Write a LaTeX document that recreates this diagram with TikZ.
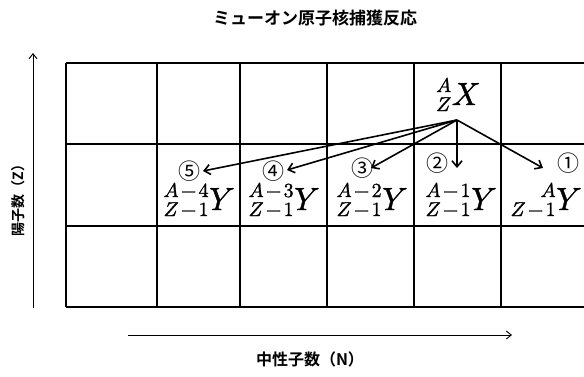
\documentclass[tikz,border=0pt]{standalone}
\usepackage{fontspec}
\usepackage{unicode-math}
\setmathfont{Latin Modern Math}[FakeBold=1.2]
\usetikzlibrary{arrows.meta}
\newfontfamily\jp{Noto Sans CJK JP}
\newfontfamily\jpb{Noto Sans CJK JP Bold}
\newcommand\mn{\mkern2mu\mathord{-}\mkern2mu}
\newcommand\nucl[3]{\raisebox{-6pt}{\fontsize{20}{19}\selectfont\vbox{\halign{\hfil##\cr $#1$\cr $#2$\cr}}}\kern0.5pt{\fontsize{32}{32}\selectfont$#3$}}
\begin{document}
\begin{tikzpicture}[x=1pt,y=-1pt,
  gridline/.style={line width=1.3pt,black},
  axisline/.style={line width=0.9pt,-{Straight Barb[length=5pt,width=8pt]}},
  decay/.style={line width=1.6pt,-{Straight Barb[length=6pt,width=10pt,line width=1.6pt]}},
  nuc/.style={inner sep=0pt},
  circnum/.style={inner sep=0pt,anchor=base,text depth=0pt,font=\jp\fontsize{22}{22}\selectfont},
  axislabel/.style={inner sep=0pt,font=\jpb\fontsize{16}{16}\selectfont}]
\useasboundingbox (0,0) rectangle (584,376);
% grid
\foreach \yy in {63,144,226,307} \draw[gridline] (66,\yy) -- (584,\yy);
\foreach \xx in {66,157,240,327,414,501} \draw[gridline] (\xx,63) -- (\xx,307);
% title
\node[axislabel,font=\jpb\fontsize{17}{17}\selectfont] (title) at (315,18) {ミューオン原子核捕獲反応};
% axes
\coordinate (ya) at (33,308);
\coordinate (yb) at (33,53);
\draw[axisline] (ya) -- (yb);
\coordinate (xa) at (128,335);
\coordinate (xb) at (512,335);
\draw[axisline] (xa) -- (xb);
\node[axislabel,font=\jpb\fontsize{14}{14}\selectfont,rotate=90] (ylab) at (18,197) {陽子数（Z）};
\node[axislabel] (xlab) at (310,359) {中性子数（N）};
% nuclides
\node[nuc,anchor=base] (X) at (458,105) {\nucl{A}{Z}{X}};
\node[nuc,anchor=base] (Y5) at (199,210) {\nucl{A\mn4}{Z\mn1}{Y}};
\node[nuc,anchor=base] (Y4) at (284,210) {\nucl{A\mn3}{Z\mn1}{Y}};
\node[nuc,anchor=base] (Y3) at (372,210) {\nucl{A\mn2}{Z\mn1}{Y}};
\node[nuc,anchor=base] (Y2) at (461,210) {\nucl{A\mn1}{Z\mn1}{Y}};
\node[nuc,anchor=base] (Y1) at (546,210) {\nucl{A}{Z\mn1}{Y}};
% circled numbers
\node[circnum] (c5) at (189,179) {⑤};
\node[circnum] (c4) at (273,179) {④};
\node[circnum] (c3) at (362,176) {③};
\node[circnum] (c2) at (437,171) {②};
\node[circnum] (c1) at (568,171) {①};
% decay arrows
\coordinate (src) at (457,120);
\coordinate (t5) at (203,171);
\coordinate (t4) at (287,170);
\coordinate (t3) at (371,168);
\coordinate (t2) at (457,168);
\coordinate (t1) at (543,168);
\foreach \t in {t5,t4,t3,t2,t1} \draw[decay] (src) -- (\t);
\end{tikzpicture}
\end{document}
